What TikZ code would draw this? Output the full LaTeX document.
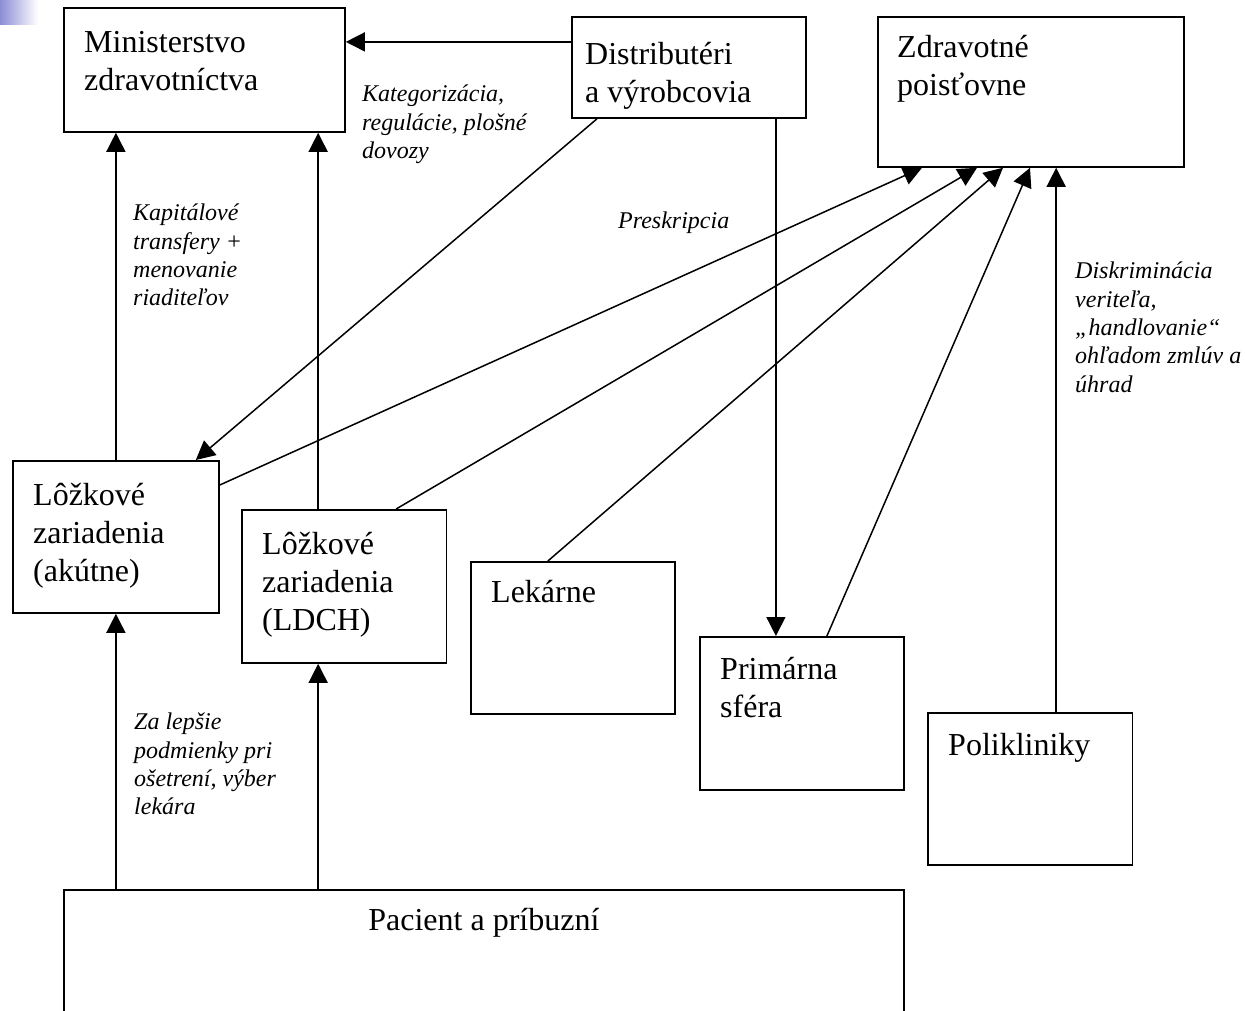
\documentclass[tikz,border=0pt]{standalone}
\usepackage{fontspec}
\setmainfont{Liberation Serif}
\usepackage{tikz}
\usetikzlibrary{arrows.meta}
\definecolor{lavender}{RGB}{140,140,215}

\begin{document}
\begin{tikzpicture}[x=1pt, y=-1pt,
	box/.style={draw, line width=1.8pt, anchor=north west, inner sep=0pt},
	boxtext/.style={anchor=north west, inner sep=0pt, align=left, font=\fontsize{32}{38}\selectfont},
	note/.style={anchor=north west, inner sep=0pt, align=left, font=\fontsize{24}{28.3}\selectfont\itshape},
	arr/.style={line width=1.5pt, -{Triangle[length=19pt,width=19pt]}}]

\useasboundingbox (0,0) rectangle (1245,1011);
\clip (0,0) rectangle (1245,1011);

\shade[left color=lavender, right color=white] (0,0) rectangle (38,25);

% boxes
\node[box, minimum width=281pt, minimum height=124pt] (min) at (63,7) {};
\node[box, minimum width=234pt, minimum height=101pt] (dist) at (571,16) {};
\node[box, minimum width=306pt, minimum height=150pt] (zp) at (877,16) {};
\node[box, minimum width=206pt, minimum height=152pt] (akut) at (12,460) {};
\node[box, minimum width=204.5pt, minimum height=153pt] (ldch) at (241,509) {};
\node[box, minimum width=204pt, minimum height=152pt] (lek) at (470,561) {};
\node[box, minimum width=204pt, minimum height=153pt] (prim) at (699,636) {};
\node[box, minimum width=204.5pt, minimum height=152pt] (pol) at (927,712) {};
\node[box, minimum width=840pt, minimum height=200pt] (pac) at (63,889) {};

\node[boxtext] (mint) at ([xshift=21pt,yshift=-24pt]min.north west) {Ministerstvo\\zdravotníctva};
\node[boxtext] (distt) at ([xshift=14pt,yshift=-26pt]dist.north west) {Distributéri\\a výrobcovia};
\node[boxtext] (zpt) at ([xshift=20pt,yshift=-19pt]zp.north west) {Zdravotné\\poisťovne};
\node[boxtext] (akutt) at ([xshift=21pt,yshift=-23pt]akut.north west) {Lôžkové\\zariadenia\\(akútne)};
\node[boxtext] (ldcht) at ([xshift=21pt,yshift=-23pt]ldch.north west) {Lôžkové\\zariadenia\\(LDCH)};
\node[boxtext] (lekt) at ([xshift=21pt,yshift=-19pt]lek.north west) {Lekárne};
\node[boxtext] (primt) at ([xshift=21pt,yshift=-21pt]prim.north west) {Primárna\\sféra};
\node[boxtext] (polt) at ([xshift=21pt,yshift=-21pt]pol.north west) {Polikliniky};
\node[boxtext, anchor=base] (pact) at ([yshift=-41pt]pac.north) {Pacient a príbuzní};

% notes
\node[note] (kat) at (362,85) {Kategorizácia,\\regulácie, plošné\\dovozy};
\node[note] (kap) at (133,204) {Kapitálové\\transfery +\\menovanie\\riaditeľov};
\node[note] (pres) at (618,212) {Preskripcia};
\node[note] (disk) at (1075,262) {Diskriminácia\\veriteľa,\\„handlovanie“\\ohľadom zmlúv a\\úhrad};
\node[note] (zal) at (134,713) {Za lepšie\\podmienky pri\\ošetrení, výber\\lekára};

% arrows
\coordinate (d1) at ([yshift=25.5pt]dist.west);
\draw[arr] (d1) -- (d1 -| min.east);
\draw[arr] ([xshift=26pt]dist.south west) -- ([xshift=-24pt]akut.north east);
\coordinate (primx) at ([xshift=-26pt]prim.north);
\draw[arr] (primx |- dist.south) -- (primx);

\coordinate (ldchx) at ([xshift=-26pt]ldch.north);
\draw[arr] (akut.north) -- (akut.north |- min.south);
\draw[arr] (ldchx) -- (ldchx |- min.south);
\coordinate (ldchy) at ([xshift=-26pt]ldch.south);
\draw[arr] (akut.south |- pac.north) -- (akut.south);
\draw[arr] (ldchy |- pac.north) -- (ldchy);

\coordinate (s1) at ([yshift=-25pt]akut.north east);
\coordinate (s2) at ([xshift=52pt]ldch.north);
\coordinate (s3) at ([xshift=-25pt]lek.north);
\coordinate (s4) at ([xshift=25pt]prim.north);
\foreach \s/\dx in {s1/45, s2/100, s3/126, s4/153}{
	\draw[arr] (\s) -- ([xshift=\dx pt]zp.south west);
}
\coordinate (s5) at ([xshift=26pt]pol.north);
\draw[arr] (s5) -- (s5 |- zp.south);

\end{tikzpicture}
\end{document}
